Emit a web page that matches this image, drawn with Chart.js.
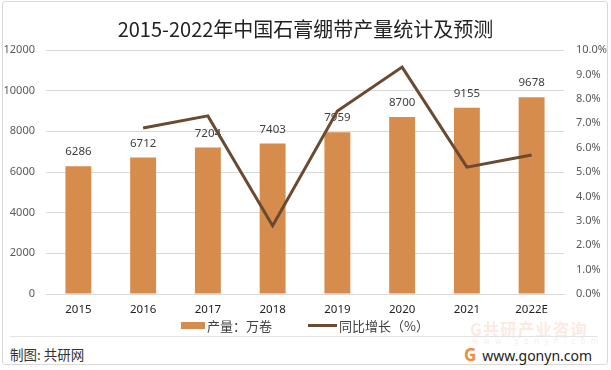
<!DOCTYPE html>
<html>
<head>
<meta charset="utf-8">
<script src="https://cdn.jsdelivr.net/npm/chart.js@4.4.1/dist/chart.umd.min.js"></script>
<style>
  body { margin: 0; background: #fff; font-family: "Noto Sans CJK SC", "Noto Sans", sans-serif; }
  #wrap { position: relative; width: 611px; height: 370px; overflow: hidden; }
  #frame { position: absolute; left: 2px; top: 1px; width: 604px; height: 362px; border: 1px solid #d9d9d9; border-radius: 3px; }
  #chart { position: absolute; left: 0; top: 0; }
  .sw { position: absolute; }
  .lg { position: absolute; top: 318px; font-size: 13px; line-height: 16px; color: #404040; }
  #sep { position: absolute; left: 10px; top: 336px; width: 588px; height: 1px; background: #e3e3e3; }
  #source { position: absolute; left: 10px; top: 344px; font-size: 13.5px; color: #333; }
  #site { position: absolute; left: 464px; top: 343px; font-size: 14px; color: #222; font-family: "Noto Sans", sans-serif; }
  #site b { color: #f08a3c; font-size: 17px; margin-right: 6px; }
  #mark { position: absolute; left: 470px; top: 317px; font-size: 16.5px; font-weight: bold; color: rgba(240,140,90,0.2); letter-spacing: 1px; }
  #mark2 { position: absolute; left: 472px; top: 335px; font-size: 8px; color: rgba(240,140,90,0.2); letter-spacing: 5.3px; font-family: "Noto Sans", sans-serif; }
</style>
</head>
<body>
<div id="wrap">
  <div id="frame"></div>
  <div id="mark">G共研产业咨询</div>
  <div id="mark2">www.gonyn.com</div>
  <canvas id="chart" width="611" height="322"></canvas>
  <div class="sw" id="sw0" style="left:181px;top:322px;width:24px;height:7px;"></div>
  <div class="lg" id="lg0" style="left:207px;"></div>
  <div class="sw" id="sw1" style="left:308px;top:324px;width:29px;height:3px;"></div>
  <div class="lg" id="lg1" style="left:339px;"></div>
  <div id="sep"></div>
  <div id="source">制图: 共研网</div>
  <div id="site"><b>G</b>www.gonyn.com</div>
</div>
<script>
const years = ['2015', '2016', '2017', '2018', '2019', '2020', '2021', '2022E'];
const output = [6286, 6712, 7204, 7403, 7959, 8700, 9155, 9678];
const growth = [null, 6.8, 7.3, 2.8, 7.5, 9.3, 5.2, 5.7];
const outputTicks = [0, 2000, 4000, 6000, 8000, 10000, 12000];
const seriesNames = ['产量：万卷', '同比增长（%）'];
const barColor = '#D58C4D';
const lineColor = '#6A4A31';

const fontFamily = '"Noto Sans", "Noto Sans CJK SC", sans-serif';

// value labels over the bars, drawn before the line so the line runs over them
const barLabels = {
  id: 'barLabels',
  afterDatasetDraw(chart, args) {
    if (args.index !== 0) return;
    const ctx = chart.ctx;
    ctx.save();
    ctx.font = '11.5px ' + fontFamily;
    ctx.fillStyle = '#404040';
    ctx.textAlign = 'center';
    ctx.textBaseline = 'middle';
    args.meta.data.forEach((bar, i) => {
      ctx.fillText(output[i], bar.x, bar.y - 14);
    });
    ctx.restore();
  }
};

// html legend
document.getElementById('sw0').style.background = barColor;
document.getElementById('sw1').style.background = lineColor;
document.getElementById('lg0').textContent = seriesNames[0];
document.getElementById('lg1').textContent = seriesNames[1];

new Chart(document.getElementById('chart'), {
  data: {
    labels: years,
    datasets: [{
      type: 'bar',
      label: seriesNames[0],
      data: output,
      backgroundColor: barColor,
      categoryPercentage: 1,
      barPercentage: 0.4,
      yAxisID: 'y',
      order: 1
    }, {
      type: 'line',
      label: seriesNames[1],
      data: growth,
      borderColor: lineColor,
      borderWidth: 3,
      pointRadius: 0,
      tension: 0,
      yAxisID: 'y1',
      order: 0
    }]
  },
  options: {
    responsive: false,
    animation: false,
    layout: { padding: 0 },
    plugins: {
      title: {
        display: true,
        text: '2015-2022年中国石膏绷带产量统计及预测',
        color: '#222',
        font: { family: '"Noto Sans CJK SC", sans-serif', size: 20, weight: 'normal' },
        padding: { top: 17, bottom: 9 }
      },
      legend: { display: false },
      tooltip: { enabled: false }
    },
    scales: {
      x: {
        grid: { display: false, drawTicks: false },
        border: { color: '#d9d9d9' },
        ticks: { color: '#222', padding: 9, font: { family: fontFamily, size: 11.5 } },
        afterFit(scale) { scale.height = 28; }
      },
      y: {
        position: 'left',
        min: 0,
        max: 12000,
        afterBuildTicks(scale) { scale.ticks = outputTicks.map(v => ({ value: v })); },
        grid: { color: '#d9d9d9', drawTicks: false },
        border: { display: false },
        ticks: { color: '#595959', padding: 11, font: { family: fontFamily, size: 11 }, callback: v => String(v) },
        afterFit(scale) { scale.width = 46; }
      },
      y1: {
        position: 'right',
        min: 0,
        max: 10,
        grid: { display: false, drawTicks: false },
        border: { display: false },
        ticks: {
          stepSize: 1,
          color: '#595959',
          padding: 12,
          font: { family: fontFamily, size: 11 },
          callback: v => v.toFixed(1) + '%'
        },
        afterFit(scale) { scale.width = 47; }
      }
    }
  },
  plugins: [barLabels]
});
</script>
</body>
</html>
